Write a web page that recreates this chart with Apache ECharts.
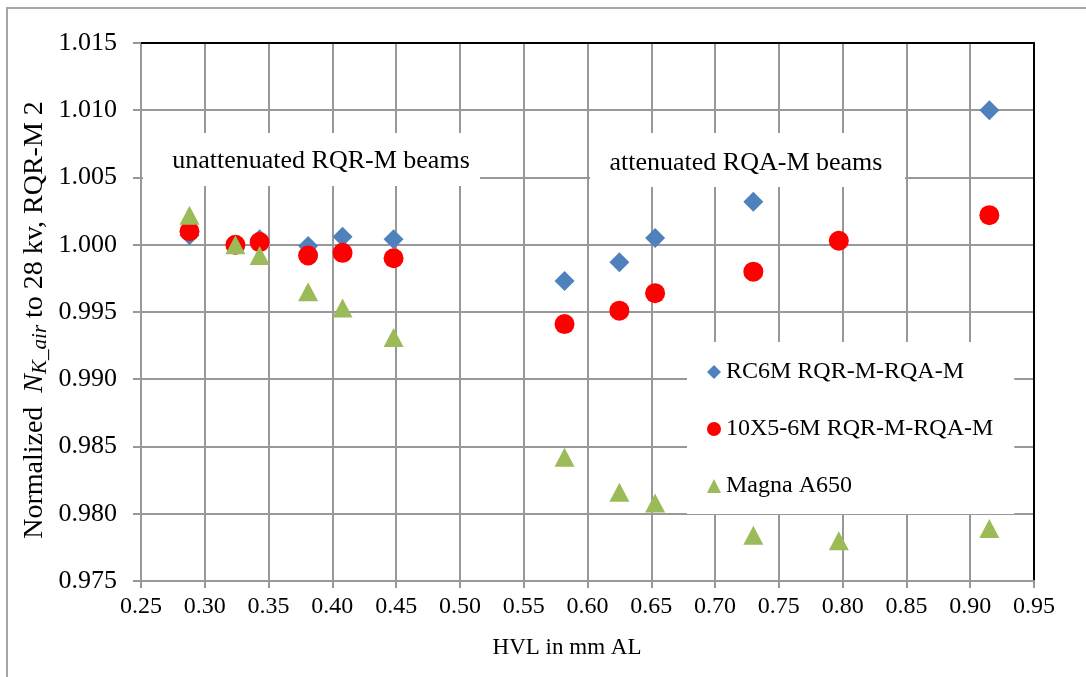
<!DOCTYPE html>
<html>
<head>
<meta charset="utf-8">
<script src="https://cdn.jsdelivr.net/npm/echarts@6/dist/echarts.min.js"></script>
<style>
html,body{margin:0;padding:0;background:#fff;}
#chart{width:1086px;height:677px;}
</style>
</head>
<body>
<div id="chart"></div>
<script>
// ---- data ----
const hvl = [0.288, 0.324, 0.343, 0.381, 0.408, 0.448, 0.582, 0.625, 0.653, 0.730, 0.797, 0.915];
const rc6m = [1.0007, 1.0000, 1.0004, 0.9999, 1.0006, 1.0004, 0.9973, 0.9987, 1.0005, 1.0032, null, 1.0100];
const x10x5 = [1.0010, 1.0000, 1.0002, 0.9992, 0.9994, 0.9990, 0.9941, 0.9951, 0.9964, 0.9980, 1.0003, 1.0022];
const magna = [1.0022, 1.0000, 0.9992, 0.9965, 0.9953, 0.9931, 0.9842, 0.9816, 0.9808, 0.9784, 0.9780, 0.9789];
const seriesNames = ['RC6M RQR-M-RQA-M', '10X5-6M RQR-M-RQA-M', 'Magna A650'];
const xTitle = 'HVL in mm AL';
const annotations = ['unattenuated RQR-M beams', 'attenuated RQA-M beams'];

const FONT = "'Liberation Serif', 'Times New Roman', serif";
function pairs(ys){ const out=[]; ys.forEach((y,i)=>{ if(y!==null) out.push([hvl[i], y]); }); return out; }

const chart = echarts.init(document.getElementById('chart'), null, {renderer:'canvas'});
const gridColor = '#989898';
chart.setOption({
  animation:false,
  backgroundColor:'#fff',
  grid:{left:141, top:43, right:52, bottom:96, containLabel:false},
  xAxis:[{
    type:'value', min:0.25, max:0.95, interval:0.05,
    axisLine:{show:true, lineStyle:{color:gridColor, width:2}},
    axisTick:{show:true, length:7, lineStyle:{color:gridColor, width:2}},
    axisLabel:{color:'#000', fontFamily:FONT, fontSize:24, margin:14, formatter:v=>v.toFixed(2)},
    splitLine:{show:true, showMinLine:false, showMaxLine:false, lineStyle:{color:gridColor, width:2}}
  },{
    type:'value', position:'top', min:0.25, max:0.95,
    axisLine:{show:true, lineStyle:{color:'#000', width:2}},
    axisTick:{show:false}, axisLabel:{show:false}, splitLine:{show:false}
  }],
  yAxis:[{
    type:'value', min:0.975, max:1.015, interval:0.005,
    axisLine:{show:true, lineStyle:{color:gridColor, width:2}},
    axisTick:{show:true, length:8, lineStyle:{color:gridColor, width:2}},
    axisLabel:{color:'#000', fontFamily:FONT, fontSize:26, margin:24, formatter:v=>v.toFixed(3)},
    splitLine:{show:true, showMinLine:false, showMaxLine:false, lineStyle:{color:gridColor, width:2}}
  },{
    type:'value', position:'right', min:0.975, max:1.015,
    axisLine:{show:true, lineStyle:{color:'#000', width:2}},
    axisTick:{show:false}, axisLabel:{show:false}, splitLine:{show:false}
  }],
  legend:{
    orient:'vertical', left:687, top:342,
    backgroundColor:'#fff', padding:[18,21,16,20],
    itemGap:33, itemWidth:14, itemHeight:14, itemTextGap:4,
    textStyle:{color:'#000', fontFamily:FONT, fontSize:24, lineHeight:24},
    data:seriesNames
  },
  series:[
    {name:seriesNames[0], type:'scatter', symbol:'diamond', symbolSize:20, itemStyle:{color:'#4F81BD', opacity:1}, data:pairs(rc6m), z:2},
    {name:seriesNames[1], type:'scatter', symbol:'circle', symbolSize:20, itemStyle:{color:'#FF0000', opacity:1}, data:pairs(x10x5), z:3},
    {name:seriesNames[2], type:'scatter', symbol:'triangle', symbolSize:[20,19], itemStyle:{color:'#9BBB59', opacity:1}, data:pairs(magna), z:4}
  ],
  graphic:[
    {type:'rect', z:100, silent:true, shape:{x:7, y:8, width:1200, height:800}, style:{fill:'none', stroke:'#a6a6a6', lineWidth:2}},
    {type:'rect', z:50, silent:true, shape:{x:143, y:133, width:337, height:53}, style:{fill:'#fff'}},
    {type:'text', z:51, silent:true, x:321, y:161, style:{text:annotations[0], font:"26px "+FONT, fill:'#000', textAlign:'center', textVerticalAlign:'middle'}},
    {type:'rect', z:50, silent:true, shape:{x:590, y:133, width:315, height:54}, style:{fill:'#fff'}},
    {type:'text', z:51, silent:true, x:746, y:163, style:{text:annotations[1], font:"26px "+FONT, fill:'#000', textAlign:'center', textVerticalAlign:'middle'}},
    {type:'text', z:51, silent:true, x:567, y:648, style:{text:xTitle, font:"23px "+FONT, fill:'#000', textAlign:'center', textVerticalAlign:'middle'}},
    {type:'text', z:51, silent:true, x:35, y:320, rotation:Math.PI/2,
      style:{text:'{a|Normalized  }{n|N}{s|K_air}{a| to 28 kv, RQR-M 2}', textAlign:'center', textVerticalAlign:'middle', fill:'#000',
        rich:{
          a:{fontFamily:FONT, fontSize:28, lineHeight:32, verticalAlign:'middle', fill:'#000'},
          n:{fontFamily:FONT, fontSize:28, fontStyle:'italic', lineHeight:32, verticalAlign:'middle', fill:'#000'},
          s:{fontFamily:FONT, fontSize:21, fontStyle:'italic', lineHeight:21, verticalAlign:'bottom', padding:[13,0,0,0], fill:'#000'}
        }}}
  ]
});
</script>
</body>
</html>
